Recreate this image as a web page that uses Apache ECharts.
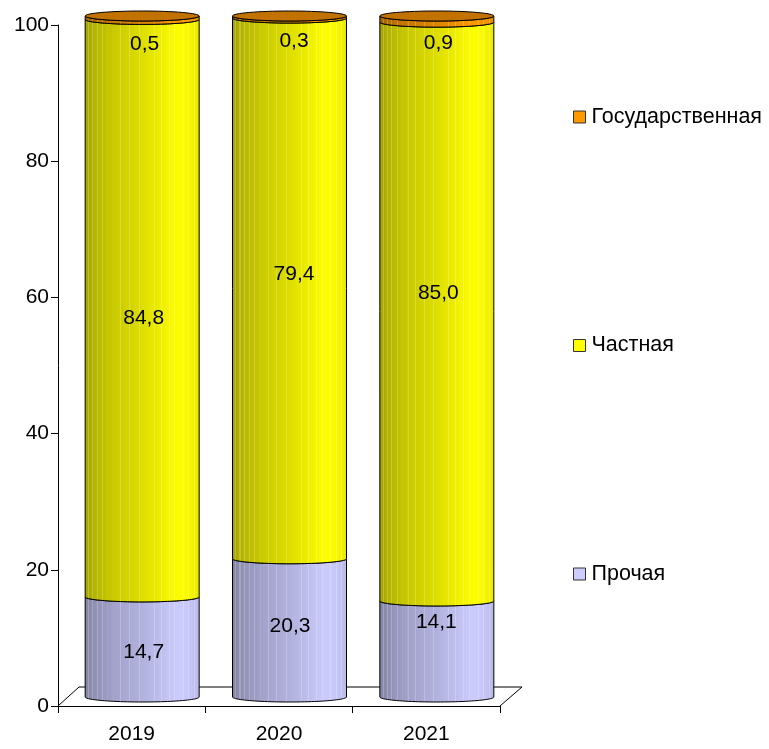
<!DOCTYPE html>
<html><head><meta charset="utf-8">
<style>html,body{margin:0;padding:0;background:#fff}#c{width:769px;height:749px}</style>
<script src="https://cdn.jsdelivr.net/npm/echarts@6/dist/echarts.min.js"></script>
</head><body><div id="c"></div>
<script>
const categories = ['2019', '2020', '2021'];
const other = [14.7, 20.3, 14.1];
const privateOwned = [84.8, 79.4, 85.0];
const stateOwned = [0.5, 0.3, 0.9];
const yTicks = [0, 20, 40, 60, 80, 100];
const seriesNames = ['Государственная', 'Частная', 'Прочая'];

const FONT = '"Liberation Sans", Arial, sans-serif';
const DEPTH_X = 21, DEPTH_Y = 19;
const RX = 57, RY = 5, CX_SHIFT = 10.5, CY_SHIFT = 9;
// hand-moved labels of the original, pixel offsets from the segment middle
const labelShift = {
  other: [[2, 5], [1, -2], [0, -27]],
  privateOwned: [[2, 10], [5, -14], [2, -18]],
  stateOwned: [[3, 44], [5, 41], [2, 43]]
};

// shading across the cylinder: [position, brightness], with thin light stripes
const shade = [[0, .64], [.1, .72], [.25, .79], [.5, .87], [.7, .95], [.83, 1], [.93, .96], [1, .9]];
const stripes = [.03, .065, .105, .15, .195, .245, .31, .385, .47, .60, .66, .73, .78, .855, .90, .95];
function brightness(t) {
  for (let i = 1; i < shade.length; i++) {
    if (t <= shade[i][0]) {
      const a = shade[i - 1], b = shade[i];
      return a[1] + (b[1] - a[1]) * (t - a[0]) / (b[0] - a[0]);
    }
  }
  return 1;
}
function mix(rgb, t, lift) {
  const k = brightness(t);
  const c = rgb.map(v => Math.round(Math.min(255, v * k + (255 - v * k) * lift)));
  return 'rgb(' + c.join(',') + ')';
}
function cylinderFill(rgb) {
  const stops = [];
  for (let i = 0; i <= 20; i++) stops.push({ offset: i / 20, color: mix(rgb, i / 20, 0) });
  stripes.forEach(s => {
    stops.push({ offset: s - .0001, color: mix(rgb, s, 0) });
    stops.push({ offset: s, color: mix(rgb, s, .22) });
    stops.push({ offset: s + .009, color: mix(rgb, s, .22) });
    stops.push({ offset: s + .0091, color: mix(rgb, s, 0) });
  });
  stops.sort((a, b) => a.offset - b.offset);
  return { type: 'linear', x: 0, y: 0, x2: 1, y2: 0, colorStops: stops };
}
function frontArc(cx, y, reverse) {
  const pts = [];
  for (let i = 0; i <= 48; i++) {
    const a = Math.PI * i / 48;
    pts.push([cx + RX * Math.cos(a), y + RY * Math.sin(a)]);
  }
  return reverse ? pts.reverse() : pts;
}
function cylinderSegment(rgb, values, bases, cap, capColor) {
  return function (params, api) {
    const i = api.value(0);
    const base = bases[i], value = values[i];
    const cx = api.coord([i, 0])[0] + CX_SHIFT;
    const y0 = api.coord([i, base])[1] - CY_SHIFT;
    const y1 = api.coord([i, base + value])[1] - CY_SHIFT;
    const outline = frontArc(cx, y0, true).concat(frontArc(cx, y1, false));
    const children = [{
      type: 'polygon',
      shape: { points: outline },
      style: { fill: cylinderFill(rgb), stroke: '#000', lineWidth: 1 }
    }];
    if (cap) {
      children.push({
        type: 'ellipse',
        shape: { cx: cx, cy: y1, rx: RX, ry: RY },
        style: { fill: capColor, stroke: '#000', lineWidth: 1 }
      });
    }
    return { type: 'group', children: children };
  };
}
function textItems(values, xShift, yOf) {
  return function (params, api) {
    const i = api.value(0);
    const cx = api.coord([i, 0])[0] + 10 + xShift(i);
    return {
      type: 'text', z2: 100,
      style: {
        text: values[i].toFixed(1).replace('.', ','),
        x: cx, y: yOf(i, api), align: 'center', verticalAlign: 'middle',
        font: '21px ' + FONT, fill: '#000'
      }
    };
  };
}
const idx = categories.map((c, i) => [i]);
const base2 = other;
const base3 = other.map((v, i) => v + privateOwned[i]);
const zeros = other.map(() => 0);
const mid = (bases, values, shift) => (i, api) =>
  api.coord([i, bases[i] + values[i] / 2])[1] - CY_SHIFT + shift[i][1];

const floorSeries = {
  type: 'custom', silent: true, data: [[0]], z: 1, clip: false,
  renderItem: function (params, api) {
    const cs = params.coordSys;
    const yb = api.coord([0, 0])[1];
    const p0 = [cs.x, yb], p1 = [cs.x + cs.width, yb];
    return {
      type: 'polyline',
      shape: { points: [p0, [p0[0] + DEPTH_X, yb - DEPTH_Y], [p1[0] + DEPTH_X + 1, yb - DEPTH_Y], p1] },
      style: { fill: null, stroke: '#000', lineWidth: 1 }
    };
  }
};
function segSeries(name, rgb, values, bases, cap, capColor) {
  return {
    name: name, type: 'custom', z: 2, clip: false, silent: true,
    itemStyle: { color: 'rgb(' + rgb.join(',') + ')' },
    data: idx,
    renderItem: cylinderSegment(rgb, values, bases, cap, capColor)
  };
}
function labelSeries(values, shift, yOf) {
  return { type: 'custom', z: 5, clip: false, silent: true, data: idx,
    renderItem: textItems(values, i => shift[i][0], yOf) };
}

const chart = echarts.init(document.getElementById('c'), null, { renderer: 'canvas' });
chart.setOption({
  animation: false,
  backgroundColor: '#fff',
  grid: { left: 58, right: 269, top: 25, bottom: 43, containLabel: false },
  legend: {
    orient: 'vertical', left: 568, top: 101,
    itemWidth: 12, itemHeight: 12, itemGap: 206.5,
    icon: 'rect',
    data: seriesNames,
    selectedMode: false,
    textStyle: { fontFamily: FONT, fontSize: 21.5, color: '#000', height: 22, lineHeight: 22, padding: [0, 0, 0, 1] },
    itemStyle: { borderColor: '#333', borderWidth: 1 }
  },
  xAxis: {
    type: 'category', data: categories, boundaryGap: true,
    axisLine: { lineStyle: { color: '#000', width: 1 } },
    axisTick: { show: true, alignWithLabel: false, length: 7, lineStyle: { color: '#000' } },
    axisLabel: { fontFamily: FONT, fontSize: 21, color: '#000', margin: 18 }
  },
  yAxis: {
    type: 'value', min: 0, max: 100, interval: yTicks[1] - yTicks[0],
    axisLine: { show: true, lineStyle: { color: '#000', width: 1 } },
    axisTick: { show: true, length: 7, lineStyle: { color: '#000' } },
    axisLabel: { fontFamily: FONT, fontSize: 21, color: '#000', margin: 9 },
    splitLine: { show: false }
  },
  series: [
    floorSeries,
    segSeries('Прочая', [204, 204, 255], other, zeros, false),
    segSeries('Частная', [255, 255, 0], privateOwned, base2, false),
    segSeries('Государственная', [255, 153, 0], stateOwned, base3, true, '#c27200'),
    labelSeries(other, labelShift.other, mid(zeros, other, labelShift.other)),
    labelSeries(privateOwned, labelShift.privateOwned, mid(base2, privateOwned, labelShift.privateOwned)),
    labelSeries(stateOwned, labelShift.stateOwned, i => labelShift.stateOwned[i][1])
  ]
});
</script></body></html>
